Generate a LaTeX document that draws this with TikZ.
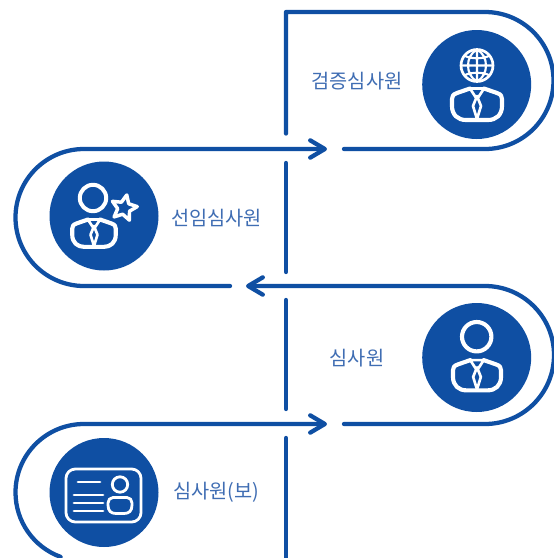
\documentclass[tikz,border=0pt]{standalone}
\usepackage{fontspec}
\usetikzlibrary{arrows.meta,shapes.geometric}
\newfontfamily\krfont{Noto Sans CJK KR}
\definecolor{mainblue}{HTML}{0F4FA3}
\definecolor{textblue}{HTML}{3F6DB3}
\tikzset{
  flow/.style={draw=mainblue,line width=3.2pt,line cap=round,line join=round},
  flowarrow/.style={flow},
  disc/.style={circle,fill=mainblue,minimum size=81.75pt,inner sep=0pt},
  rolelabel/.style={text=textblue,font=\krfont\fontsize{14.8pt}{16pt}\selectfont,inner sep=0pt},
  iconline/.style={draw=white,line width=#1,line cap=round,line join=round},
  iconline/.default=2.4pt
}
\newcommand{\suiticon}[3]{%
  \begin{scope}[shift={(#1,#2)},scale=#3]
    \draw[iconline=3.1pt] (-7,-15.5) -- (-20,-11) .. controls (-24,-9.5) and (-25,-8) .. (-25,-5) -- (-25,2)
      .. controls (-25,11) and (-19,16) .. (-11,16) -- (11,16)
      .. controls (19,16) and (25,11) .. (25,2) -- (25,-5)
      .. controls (25,-8) and (24,-9.5) .. (20,-11) -- (7,-15.5);
    \draw[iconline=2pt] (-7,-15.5) -- (7,-15.5) (-7,-15.5) -- (-1.5,-7) (7,-15.5) -- (1.5,-7)
      (0,-8) -- (-4,2) -- (0,15) -- (4,2) -- cycle (-1.5,-7) -- (1.5,-7);
  \end{scope}}
\begin{document}
\begin{tikzpicture}[x=0.75pt,y=-0.75pt]
\useasboundingbox[fill=white] (0,0) rectangle (554,558);
% discs
\node[disc] (d1) at (476.7,84.5) {};
\node[disc] (d2) at (104,216) {};
\node[disc] (d3) at (476.7,357.5) {};
\node[disc] (d4) at (104,492.5) {};
% anchor points of the flow
\coordinate (a1) at (344,149);
\coordinate (t1) at (327,149);
\coordinate (b1) at (230,286);
\coordinate (t2) at (246,286);
\coordinate (c1) at (344,424);
\coordinate (t3) at (327,424);
% flow lines
\draw[flow] (286,133.5) -- (286,12) -- (485,12) arc[start angle=-90,end angle=90,radius=68.5] -- (a1);
\draw[flowarrow,<-,>={Straight Barb[length=11pt,width=13pt,round]}] (t1) -- (84,149) arc[start angle=-90,end angle=-270,radius=68.5] -- (b1);
\draw[flowarrow,<-,>={Straight Barb[length=11pt,width=13pt,round]}] (t2) -- (485,286) arc[start angle=-90,end angle=90,radius=69] -- (c1);
\draw[flowarrow,<-,>={Straight Barb[length=11pt,width=13pt,round]}] (t3) -- (84,424) arc[start angle=-90,end angle=-250,radius=68.5];
\draw[flow] (286,163) -- (286,272);
\draw[flow] (286,300) -- (286,409);
\draw[flow] (286,438) -- (286,565);
% labels
\node[rolelabel] (l1) at (357,81) {검증심사원};
\node[rolelabel] (l2) at (216.5,218) {선임심사원};
\node[rolelabel] (l3) at (357,358) {심사원};
\node[rolelabel] (l4) at (216.5,492) {심사원(보)};
% icon 1: globe person
\suiticon{477}{104}{1}
\draw[iconline=2pt] (477,65.5) circle (16);
\draw[iconline=1.6pt] (477,49.5) -- (477,81.5) (461,65.5) -- (493,65.5)
  (465,56) .. controls (472,59) and (482,59) .. (489,56)
  (465,75) .. controls (472,72) and (482,72) .. (489,75)
  (477,49.5) .. controls (465,56) and (465,75) .. (477,81.5)
  (477,49.5) .. controls (489,56) and (489,75) .. (477,81.5);
% icon 2: star person
\suiticon{94}{233}{0.87}
\draw[iconline=3pt] (93,198) circle (13.2);
\node[star,star points=5,star point ratio=2.1,minimum size=20pt,inner sep=0pt,iconline=2.6pt,rotate=-12] (s) at (124,208) {};
% icon 3: person
\suiticon{477}{375}{0.96}
\draw[iconline=3.1pt] (476.7,336.7) circle (14.7);
% icon 4: id card
\draw[iconline=2.1pt,rounded corners=7pt] (66,469) rectangle (141,522);
\draw[iconline=2.1pt] (78,482) -- (100,482) (74,495) -- (103,495) (74,503) -- (103,503) (74,511) -- (103,511);
\draw[iconline=2.1pt] (120,484.5) circle (7.7);
\draw[iconline=2.1pt] (113,497.5) -- (127,497.5) .. controls (130,497.5) and (132,500) .. (132,503) -- (132,505)
  .. controls (132,511) and (129,513.5) .. (124,513.5) -- (116,513.5)
  .. controls (111,513.5) and (108,511) .. (108,505) -- (108,503) .. controls (108,500) and (110,497.5) .. (113,497.5) -- cycle;
\end{tikzpicture}
\end{document}
